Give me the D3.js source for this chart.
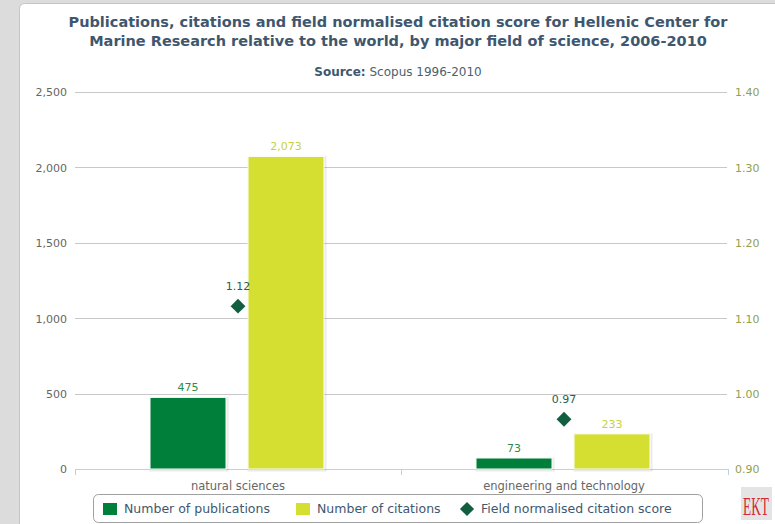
<!DOCTYPE html>
<html><head><meta charset="utf-8">
<script src="https://cdn.jsdelivr.net/npm/d3@7/dist/d3.min.js"></script>
<style>html,body{margin:0;padding:0;background:#dcdcdc;}svg{display:block;font-family:"DejaVu Sans",sans-serif;}</style>
</head><body>
<script>
const categories = ["natural sciences", "engineering and technology"];
const publications = [475, 73];
const citations = [2073, 233];
const scores = [1.116, 0.966];
const leftTicks = [0, 500, 1000, 1500, 2000, 2500];
const rightTicks = [0.9, 1.0, 1.1, 1.2, 1.3, 1.4];
const seriesNames = ["Number of publications", "Number of citations", "Field normalised citation score"];

const W = 775, H = 524;
const svg = d3.select("body").append("svg").attr("width", W).attr("height", H);

// panel
svg.append("rect").attr("x", 19.5).attr("y", 3.5).attr("width", 800).attr("height", 540)
  .attr("rx", 5).attr("fill", "#fff").attr("stroke", "#b8c8dc");

// title
const title = svg.append("text").attr("text-anchor", "middle").attr("fill", "#3e576f")
  .attr("font-weight", "bold").attr("font-size", 14.5);
title.append("tspan").attr("x", 398).attr("y", 27).text("Publications, citations and field normalised citation score for Hellenic Center for");
title.append("tspan").attr("x", 398).attr("y", 46).text("Marine Research relative to the world, by major field of science, 2006-2010");
const sub = svg.append("text").attr("x", 398).attr("y", 76).attr("text-anchor", "middle")
  .attr("fill", "#3e576f").attr("font-size", 12);
sub.append("tspan").attr("font-weight", "bold").text("Source:");
sub.append("tspan").text("  Scopus 1996-2010").attr("fill", "#4d5f70");

const pLeft = 75, pRight = 727, pTop = 92, pBottom = 469;
const y = d3.scaleLinear().domain([0, 2500]).range([pBottom, pTop]);
const y2 = d3.scaleLinear().domain([0.9, 1.4]).range([pBottom, pTop]);
const x0 = d3.scaleBand().domain(categories).range([pLeft, pRight]).padding(0);
const x1 = d3.scaleBand().domain(["pub", "cit"]).range([-88, 86]).paddingInner(22 / 98).paddingOuter(0);

// grid
svg.append("g").selectAll("line").data(leftTicks.filter(d => d > 0)).join("line")
  .attr("x1", pLeft).attr("x2", pRight).attr("y1", d => Math.round(y(d)) + 0.5).attr("y2", d => Math.round(y(d)) + 0.5)
  .attr("stroke", "#c8c8c8");

// left axis
const la = svg.append("g").attr("transform", `translate(${pLeft - 8},0)`)
  .call(d3.axisLeft(y).tickValues(leftTicks).tickFormat(d3.format(",")).tickSize(0).tickPadding(0));
la.select(".domain").remove();
la.selectAll("text").attr("fill", "#666").attr("font-size", 11).attr("font-family", "DejaVu Sans").attr("dy", "0.35em");

// right axis
const ra = svg.append("g").attr("transform", `translate(${pRight + 8},0)`)
  .call(d3.axisRight(y2).tickValues(rightTicks).tickFormat(d3.format(".2f")).tickSize(0).tickPadding(0));
ra.select(".domain").remove();
ra.selectAll("text").attr("fill", "#8fa14e").attr("font-size", 11).attr("font-family", "DejaVu Sans").attr("dy", "0.35em");

// x axis
const xa = svg.append("g").attr("transform", `translate(0,${pBottom + 0.5})`)
  .call(d3.axisBottom(x0).tickSize(0).tickPadding(12));
xa.select(".domain").attr("stroke", "#c0d0e0").attr("d", `M${pLeft},0H${pRight + 1}`);
xa.selectAll("text").attr("fill", "#666").attr("font-size", 11.5).attr("font-family", "DejaVu Sans");
svg.append("g").selectAll("line").data([pLeft, x0(categories[1]), pRight + 1]).join("line")
  .attr("x1", d => Math.round(d) + 0.5).attr("x2", d => Math.round(d) + 0.5)
  .attr("y1", pBottom).attr("y2", pBottom + 6).attr("stroke", "#c0d0e0");

// bars
const barData = [];
categories.forEach((c, i) => {
  barData.push({ c, k: "pub", v: publications[i], color: "#007f3b", lab: "#2b8a52" });
  barData.push({ c, k: "cit", v: citations[i], color: "#d4df32", lab: "#c5d23c" });
});
const bx = d => x0(d.c) + x0.bandwidth() / 2 + x1(d.k);
svg.append("g").selectAll("rect").data(barData).join("rect")
  .attr("x", d => bx(d) + 1).attr("y", d => y(d.v) + 1)
  .attr("width", x1.bandwidth()).attr("height", d => y(0) - y(d.v))
  .attr("fill", "none").attr("stroke", "#000").attr("stroke-opacity", 0.08).attr("stroke-width", 3);
svg.append("g").selectAll("rect").data(barData).join("rect")
  .attr("x", d => bx(d)).attr("y", d => y(d.v))
  .attr("width", x1.bandwidth()).attr("height", d => y(0) - y(d.v))
  .attr("fill", d => d.color).attr("stroke", "#fff").attr("stroke-width", 1);
svg.append("g").selectAll("text").data(barData).join("text")
  .attr("x", d => bx(d) + x1.bandwidth() / 2).attr("y", d => y(d.v) - 6)
  .attr("text-anchor", "middle").attr("font-size", 11).attr("fill", d => d.lab)
  .text(d => d3.format(",")(d.v));

// diamonds
const sym = d3.symbol().type(d3.symbolSquare).size(110);
svg.append("g").selectAll("path").data(scores).join("path")
  .attr("d", sym)
  .attr("transform", (d, i) => `translate(${x0(categories[i]) + x0.bandwidth() / 2},${y2(d)}) rotate(45)`)
  .attr("fill", "#115e41");
svg.append("g").selectAll("text").data(scores).join("text")
  .attr("x", (d, i) => x0(categories[i]) + x0.bandwidth() / 2).attr("y", d => y2(d) - 16)
  .attr("text-anchor", "middle").attr("font-size", 11).attr("fill", "#2b5e4c")
  .text(d => d3.format(".2f")(d));

// legend
svg.append("rect").attr("x", 93.5).attr("y", 494.5).attr("width", 609).attr("height", 28).attr("rx", 5)
  .attr("fill", "#fff").attr("stroke", "#a0a0a0");
const legItems = [
  { name: seriesNames[0], color: "#007f3b", type: "rect", x: 103 },
  { name: seriesNames[1], color: "#d4df32", type: "rect", x: 296 },
  { name: seriesNames[2], color: "#115e41", type: "diamond", x: 460 }
];
const lg = svg.append("g").selectAll("g").data(legItems).join("g").attr("transform", d => `translate(${d.x},509)`);
lg.filter(d => d.type === "rect").append("rect").attr("x", 0).attr("y", -6).attr("width", 14).attr("height", 12).attr("fill", d => d.color);
lg.filter(d => d.type === "diamond").append("path").attr("d", d3.symbol().type(d3.symbolSquare).size(100))
  .attr("transform", "translate(7,0) rotate(45)").attr("fill", d => d.color);
lg.append("text").attr("x", 21).attr("y", 0).attr("dy", "0.35em").attr("font-size", 12.5).attr("fill", "#3e576f").text(d => d.name);

// logo
svg.append("rect").attr("x", 741).attr("y", 487).attr("width", 31).attr("height", 33).attr("fill", "#e4e4e4");
svg.append("text").attr("transform", "translate(756,515) scale(1,1.75)").attr("text-anchor", "middle")
  .attr("font-family", "Liberation Serif").attr("font-size", 15).attr("fill", "#d42a34")
  .attr("textLength", 26).attr("lengthAdjust", "spacingAndGlyphs").text("EKT");
</script>
</body></html>
